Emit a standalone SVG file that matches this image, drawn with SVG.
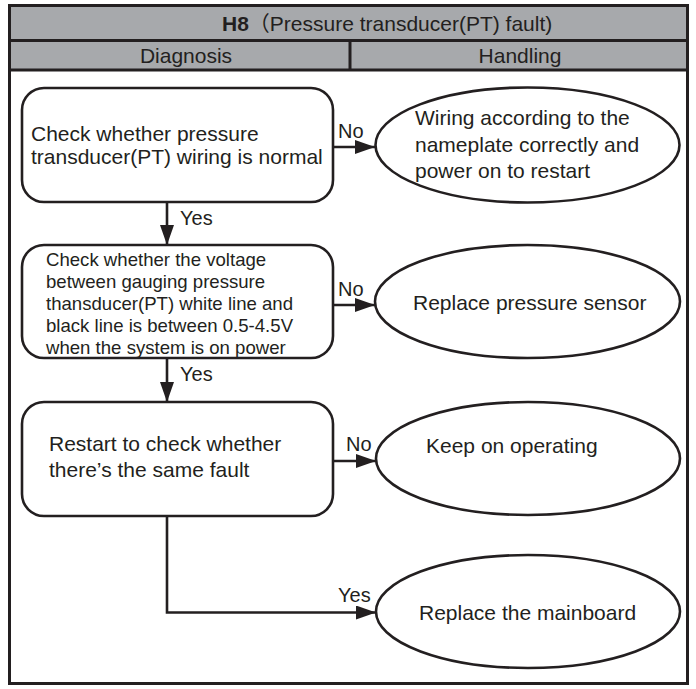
<svg xmlns="http://www.w3.org/2000/svg" width="696" height="689" viewBox="0 0 696 689">
<defs>
<style>
.t{font-family:"Liberation Sans",Arial,"Noto Sans CJK SC",sans-serif;fill:#231f20}
.b{font-size:21px}
.s{font-size:18.6px}
.l{font-size:20px}
.box{fill:#fff;stroke:#231f20;stroke-width:2.6}
.ln{fill:none;stroke:#231f20;stroke-width:2.6}
.fr{fill:none;stroke:#231f20;stroke-width:3}
</style>
<marker id="ah" markerUnits="userSpaceOnUse" markerWidth="20" markerHeight="14" refX="20" refY="7" orient="auto">
<path d="M0,0 L20,7 L0,14 z" fill="#231f20"/>
</marker>
</defs>
<rect x="0" y="0" width="696" height="689" fill="#fff"/>
<g id="header">
<rect x="9.5" y="5.5" width="678" height="64.5" fill="#a7a9ac"/>
<line x1="9.5" y1="40.5" x2="687.5" y2="40.5" class="fr"/>
<line x1="9.5" y1="70" x2="687.5" y2="70" class="fr"/>
<line x1="350" y1="40.5" x2="350" y2="70" class="fr"/>
<text class="t b" x="222" y="31"><tspan font-weight="bold">H8</tspan>（Pressure transducer(PT) fault)</text>
<text class="t b" x="186" y="63" text-anchor="middle">Diagnosis</text>
<text class="t b" x="520" y="63" text-anchor="middle">Handling</text>
</g>
<rect id="frame" x="9.5" y="5.5" width="678" height="678" class="fr"/>
<g id="connectors">
<line x1="333" y1="147" x2="375" y2="147" class="ln" marker-end="url(#ah)"/>
<line x1="167" y1="202" x2="167" y2="245" class="ln" marker-end="url(#ah)"/>
<line x1="333" y1="305" x2="375" y2="305" class="ln" marker-end="url(#ah)"/>
<line x1="167" y1="358" x2="167" y2="402" class="ln" marker-end="url(#ah)"/>
<line x1="333" y1="461" x2="376" y2="461" class="ln" marker-end="url(#ah)"/>
<path d="M167,516 V612.5 H376" class="ln" marker-end="url(#ah)"/>
<text class="t l" x="338" y="138">No</text>
<text class="t l" x="180" y="225">Yes</text>
<text class="t l" x="338" y="296">No</text>
<text class="t l" x="180" y="381">Yes</text>
<text class="t l" x="346" y="451">No</text>
<text class="t l" x="338" y="602">Yes</text>
</g>
<g id="n1">
<rect x="22" y="88" width="311" height="114" rx="22" class="box"/>
<text class="t b" x="31" y="141">Check whether pressure</text>
<text class="t b" x="31" y="164">transducer(PT) wiring is normal</text>
</g>
<g id="n2">
<rect x="22" y="245" width="311" height="113" rx="22" class="box"/>
<text class="t s" x="46" y="266">Check whether the voltage</text>
<text class="t s" x="46" y="288">between gauging pressure</text>
<text class="t s" x="46" y="310">thansducer(PT) white line and</text>
<text class="t s" x="46" y="332">black line is between 0.5-4.5V</text>
<text class="t s" x="46" y="354">when the system is on power</text>
</g>
<g id="n3">
<rect x="22" y="402" width="311" height="114" rx="22" class="box"/>
<text class="t b" x="49" y="451">Restart to check whether</text>
<text class="t b" x="49" y="477">there’s the same fault</text>
</g>
<g id="e1">
<ellipse cx="527.5" cy="145" rx="152" ry="57.5" class="box"/>
<text class="t b" x="415" y="125">Wiring according to the</text>
<text class="t b" x="415" y="152">nameplate correctly and</text>
<text class="t b" x="415" y="178">power on to restart</text>
</g>
<g id="e2">
<ellipse cx="527.5" cy="301.5" rx="152.5" ry="56.5" class="box"/>
<text class="t b" x="413" y="310">Replace pressure sensor</text>
</g>
<g id="e3">
<ellipse cx="528" cy="458.5" rx="152" ry="56.5" class="box"/>
<text class="t b" x="426" y="453">Keep on operating</text>
</g>
<g id="e4">
<ellipse cx="528" cy="611.5" rx="152" ry="56.5" class="box"/>
<text class="t b" x="419" y="620">Replace the mainboard</text>
</g>
</svg>
